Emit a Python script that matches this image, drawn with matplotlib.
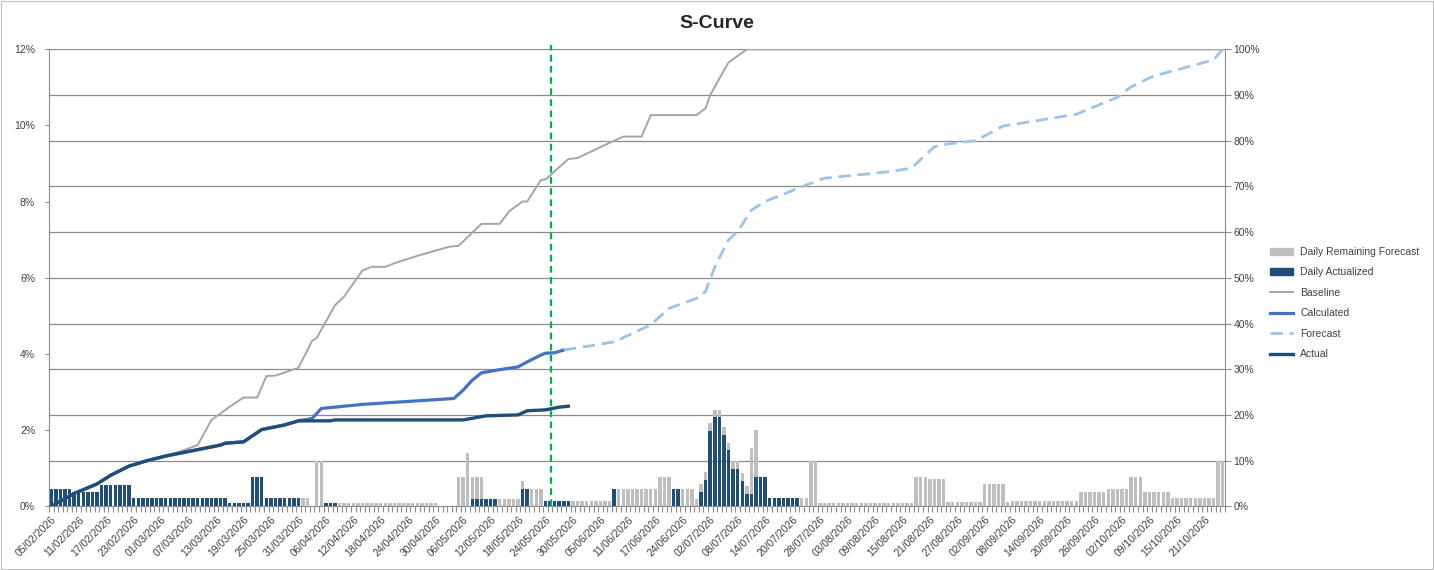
import matplotlib
matplotlib.use("Agg")
import matplotlib.pyplot as plt
from matplotlib.patches import Rectangle, Patch
from matplotlib.lines import Line2D

plt.rcParams['font.family'] = ['Liberation Sans', 'DejaVu Sans']

# x axis: one category per working day, a label every 6th category
date_labels = ["05/02/2026", "11/02/2026", "17/02/2026", "23/02/2026", "01/03/2026",
               "07/03/2026", "13/03/2026", "19/03/2026", "25/03/2026", "31/03/2026",
               "06/04/2026", "12/04/2026", "18/04/2026", "24/04/2026", "30/04/2026",
               "06/05/2026", "12/05/2026", "18/05/2026", "24/05/2026", "30/05/2026",
               "05/06/2026", "11/06/2026", "17/06/2026", "24/06/2026", "02/07/2026",
               "08/07/2026", "14/07/2026", "20/07/2026", "28/07/2026", "03/08/2026",
               "09/08/2026", "15/08/2026", "21/08/2026", "27/08/2026", "02/09/2026",
               "08/09/2026", "14/09/2026", "20/09/2026", "26/09/2026", "02/10/2026",
               "09/10/2026", "15/10/2026", "21/10/2026"]
n_days = 257
label_every = 6

# daily bars (% of total, left axis) as (value, number of days) runs
actualized_runs = [(0.46, 5), (0.376, 6), (0.56, 7), (0.215, 21), (0.08, 5), (0.78, 3),
                   (0.215, 8), (0, 5), (0.08, 3), (0, 29), (0.19, 6), (0, 5), (0.46, 2),
                   (0, 3), (0.134, 6), (0, 9), (0.46, 1), (0, 12), (0.46, 2), (0, 4),
                   (0.376, 1), (0.70, 1), (1.99, 1), (2.34, 2), (1.88, 1), (1.48, 1),
                   (0.97, 2), (0.67, 1), (0.32, 2), (0.78, 3), (0.23, 7), (0, 93)]
remaining_runs = [(0, 55), (0.215, 2), (0, 1), (1.2, 2), (0, 3), (0.08, 22), (0, 4),
                  (0.78, 2), (1.40, 1), (0.59, 3), (0, 3), (0.19, 5), (0.21, 1), (0, 1),
                  (0.46, 3), (0, 6), (0.134, 9), (0, 1), (0.46, 9), (0.78, 3), (0, 2),
                  (0.46, 3), (0.19, 1), (0.215, 1), (0.19, 1), (0.21, 1), (0.19, 4),
                  (0.22, 2), (0.21, 2), (1.21, 1), (1.23, 1), (0, 9), (0.23, 2), (1.2, 2),
                  (0.08, 21), (0.78, 3), (0.725, 4), (0.107, 8), (0.59, 5), (0.107, 1),
                  (0.134, 15), (0.376, 6), (0.457, 5), (0.78, 3), (0.376, 6), (0.215, 10),
                  (1.2, 2)]

# cumulative curves (% , right axis), day index -> value
baseline_x = [0, 5, 10, 13, 17, 21, 25, 29, 32, 35, 39, 42, 45, 47, 49, 54, 57, 58, 62,
              64, 68, 70, 73, 75, 80, 87, 89, 94, 98, 100, 103, 104, 107, 108, 113, 115,
              120, 125, 129, 131, 141, 143, 144, 146, 148, 152, 256]
baseline_y = [0, 2.8, 4.9, 6.8, 8.8, 10.0, 11.0, 12.3, 13.4, 18.9, 21.8, 23.8, 23.8, 28.5,
              28.6, 30.3, 36.2, 36.8, 44.0, 45.9, 51.6, 52.4, 52.4, 53.2, 54.8, 56.8, 57.0,
              61.8, 61.8, 64.5, 66.7, 66.7, 71.4, 71.5, 76.0, 76.2, 78.6, 80.9, 80.9, 85.6,
              85.6, 87.1, 90.0, 93.6, 97.1, 100, 100]
calculated_x = [0, 5, 10, 13, 17, 21, 25, 31, 37, 38, 42, 46, 51, 54, 57, 59, 68, 88, 90,
                92, 94, 98, 102, 104, 107, 108, 110, 112]
calculated_y = [0, 2.8, 4.9, 6.8, 8.8, 10.0, 11.0, 12.2, 13.4, 13.8, 14.1, 16.8, 17.8,
                18.7, 19.2, 21.4, 22.3, 23.6, 25.4, 27.6, 29.2, 29.9, 30.5, 31.6, 33.1,
                33.5, 33.6, 34.2]
forecast_x = [112, 119, 123, 131, 135, 141, 143, 145, 148, 150, 153, 156, 166, 169, 183,
              188, 193, 196, 202, 208, 213, 224, 233, 236, 241, 246, 254, 256]
forecast_y = [34.2, 35.3, 36.0, 39.7, 43.3, 45.5, 47.0, 52.4, 58.3, 60.1, 64.8, 66.7, 70.7,
              71.8, 73.2, 74.0, 78.7, 79.3, 80.0, 83.2, 84.0, 85.8, 89.5, 91.8, 94.2, 95.5,
              97.7, 100.0]
actual_x = [0, 5, 10, 13, 17, 21, 25, 31, 37, 38, 42, 46, 51, 54, 61, 62, 90, 95, 102,
            104, 108, 111, 113]
actual_y = [0, 2.8, 4.9, 6.8, 8.8, 10.0, 11.0, 12.2, 13.4, 13.8, 14.1, 16.8, 17.8, 18.7,
            18.7, 18.9, 18.9, 19.8, 20.0, 20.9, 21.1, 21.7, 21.9]

status_day = 109.3  # green "today" line

left_ticks = [0, 2, 4, 6, 8, 10, 12]
right_ticks = [0, 10, 20, 30, 40, 50, 60, 70, 80, 90, 100]


def expand(runs):
    out = []
    for v, n in runs:
        out += [v] * n
    return out


actualized = expand(actualized_runs)
remaining = expand(remaining_runs)
days = list(range(n_days))

c_navy = "#1F4E79"
c_gray_bar = "#BFBFBF"
c_base = "#A5A5A5"
c_calc = "#4472C4"
c_fc = "#9DC3E6"
c_grid = "#8C8C8C"
c_text = "#404040"

W, H = 1434, 570
fig = plt.figure(figsize=(W / 100, H / 100), dpi=100)
ax1 = fig.add_axes([49 / W, 1 - 506.3 / H, (1225 - 49) / W, (506.3 - 49.3) / H])
ax2 = ax1.twinx()

# gridlines follow the right axis (every 10%)
for g in right_ticks[1:]:
    ax1.axhline(g * 12 / 100, color=c_grid, lw=0.9, zorder=0.5)

ax1.bar(days, actualized, width=0.75, color=c_navy, zorder=2)
ax1.bar(days, remaining, width=0.75, bottom=actualized, color=c_gray_bar, zorder=2)

ax1.set_xlim(-0.5, n_days - 0.5)
ax1.set_ylim(0, 12)
ax1.set_yticks(left_ticks)
ax1.set_yticklabels([f"{v}%" for v in left_ticks])
ax1.set_xticks(range(0, n_days, label_every)[:len(date_labels)])
ax1.set_xticklabels(date_labels, rotation=45, ha="right", rotation_mode="anchor")
ax1.set_xticks([d - 0.5 for d in range(n_days + 1)], minor=True)
ax1.tick_params(axis="x", which="major", length=0, pad=6, labelsize=7.5, colors=c_text)
ax1.tick_params(axis="x", which="minor", length=4, color=c_grid, width=0.8)
ax1.tick_params(axis="y", length=3, color=c_grid, pad=7, labelsize=7.5, colors=c_text)
ax1.tick_params(axis="y", color=c_grid)

ax2.plot(baseline_x, baseline_y, color=c_base, lw=1.4, zorder=3)
ax2.plot(calculated_x, calculated_y, color=c_calc, lw=2.3, zorder=4)
ax2.plot(forecast_x, forecast_y, color=c_fc, lw=2.0, dashes=(4.5, 2.4), zorder=4)
ax2.plot(actual_x, actual_y, color=c_navy, lw=2.4, zorder=5)
ax2.plot([status_day, status_day], [0, 101], color="#00B050", lw=1.6, dashes=(3, 2),
         clip_on=False, zorder=6)
ax2.set_ylim(0, 100)
ax2.set_yticks(right_ticks)
ax2.set_yticklabels([f"{v}%" for v in right_ticks])
ax2.tick_params(axis="y", length=4, color=c_grid, pad=2, labelsize=7.5, colors=c_text)
ax2.tick_params(axis="y", color=c_grid)

for ax in (ax1, ax2):
    ax.spines["top"].set_visible(False)
ax1.spines["right"].set_visible(False)
ax2.spines["left"].set_visible(False)
ax2.spines["bottom"].set_visible(False)
for s in ("left", "bottom"):
    ax1.spines[s].set_color(c_grid)
ax2.spines["right"].set_color(c_grid)

fig.text(0.5, 1 - 23 / H, "S-Curve", ha="center", va="center", fontsize=14,
         fontweight="bold", color="#262626")

handles = [Patch(color=c_gray_bar), Patch(color=c_navy),
           Line2D([], [], color=c_base, lw=1.4),
           Line2D([], [], color=c_calc, lw=2.3),
           Line2D([], [], color=c_fc, lw=2.0, dashes=(4.5, 2.4)),
           Line2D([], [], color=c_navy, lw=2.4)]
labels = ["Daily Remaining Forecast", "Daily Actualized", "Baseline", "Calculated",
          "Forecast", "Actual"]
fig.legend(handles, labels, loc="upper left", bbox_to_anchor=(1270 / W, 1 - 247 / H),
           frameon=False, fontsize=7.5, handlelength=2.2, handleheight=0.6,
           labelspacing=1.0, handletextpad=0.7, borderaxespad=0, borderpad=0,
           labelcolor=c_text)

fig.patches.append(Rectangle((1 / W, 1 / H), 1 - 2 / W, 1 - 2 / H, transform=fig.transFigure,
                             fill=False, edgecolor="#BFBFBF", lw=0.8))

fig.savefig("out.png", dpi=100)
